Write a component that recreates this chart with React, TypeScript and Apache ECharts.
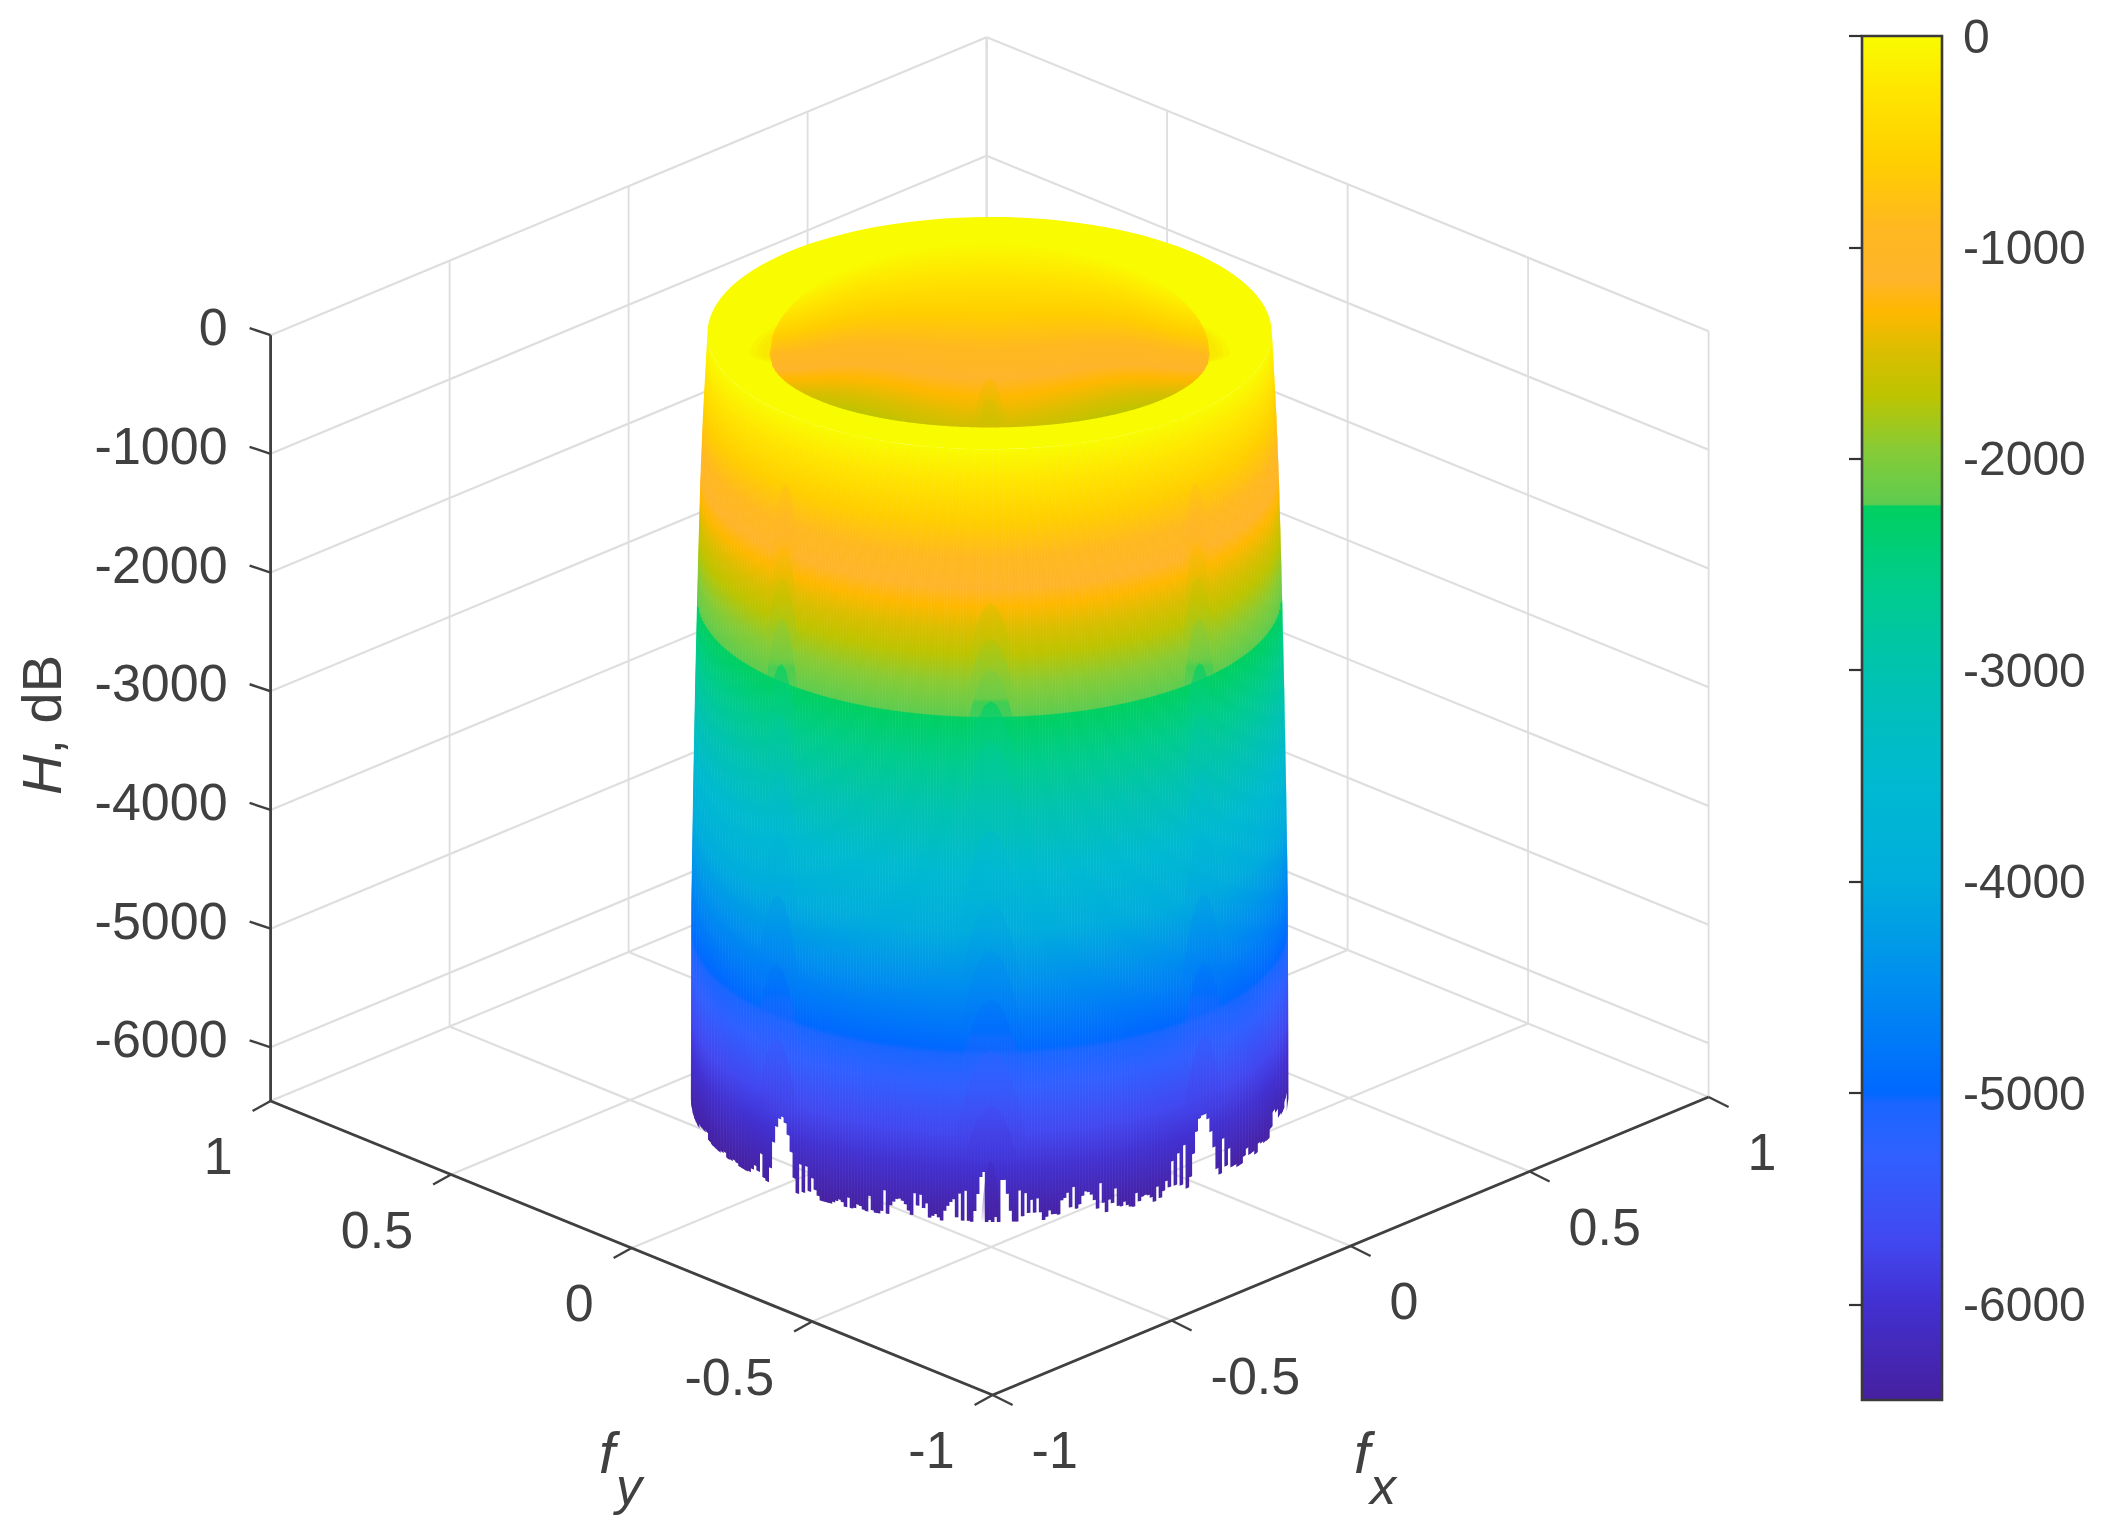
import React, { useEffect, useRef } from "react";
import * as echarts from "echarts";

const FONT = "Liberation Sans";
const INK = "#404040";
const GRID_LINE = "#dedede";

const FX_TICKS = [-1, -0.5, 0, 0.5, 1];
const FY_TICKS = [-1, -0.5, 0, 0.5, 1];
const FX_LABELS = ["-1", "-0.5", "0", "0.5", "1"];
const FY_LABELS = ["-1", "-0.5", "0", "0.5", "1"];
const Z_TICKS = [0, -1000, -2000, -3000, -4000, -5000, -6000];
const Z_MIN = -6452;

// Colour scale: dB level, colour
const COLOR_Z = [0, -250, -600, -900, -1150, -1300, -1500, -1700, -1950, -2215, -2225, -2600, -3000, -3500, -4000, -4500, -5000, -5050, -5300, -5700, -6000, -6452];
const COLOR_HEX = ["#F9FB00", "#FFE600", "#FFCE00", "#FFB820", "#FFB52A", "#FFB800", "#D9BE00", "#BDC400", "#88CB35", "#5ECC50", "#00D060", "#00CC8C", "#00C3AF", "#00BAD0", "#00ADDC", "#008CF0", "#0068FF", "#1A66FF", "#3060FF", "#4248F0", "#4230D0", "#46209F"];

// Outer wall of the surface: dB level, radius in normalised frequency
const PROFILE_Z = [0, -300, -700, -1230, -2000, -2915, -3800, -4770, -6452];
const PROFILE_R = [0.555, 0.559, 0.564, 0.569, 0.574, 0.579, 0.583, 0.5866, 0.5876];

// How far the lower rim of the wall stops above the floor, in dB, column by column from left to right
const EDGE_RISE = [
  0, 0, 0, 34, 42, 59, 8, 0, 0, 0,
  17, 34, 0, 8, 25, 17, 0, 0, 0, 8,
  42, 84, 50, 210, 17, 0, 126, 353, 496, 571,
  596, 554, 462, 328, 118, 0, 252, 25, 252, 50,
  168, 76, 34, 0, 0, 0, 0, 17, 34, 50,
  34, 0, 84, 0, 8, 42, 34, 8, 0, 134,
  17, 0, 0, 25, 202, 8, 84, 118, 143, 151,
  134, 109, 59, 25, 210, 109, 202, 92, 134, 17,
  34, 50, 25, 0, 84, 126, 160, 185, 34, 235,
  8, 260, 8, 0, 92, 235, 378, 420, 0, 17,
  0, 42, 0, 353, 353, 235, 92, 0, 0,
  260, 42, 235, 67, 176, 67, 185, 67, 0, 25,
  76, 42, 42, 34, 151, 168, 210, 84, 252, 67,
  101, 168, 202, 193, 168, 118, 42, 252, 84, 0,
  101, 67, 185, 34, 25, 59, 25, 8, 0, 109,
  34, 67, 76, 67, 42, 0, 118, 17, 67, 143,
  84, 294, 84, 344, 67, 395, 25, 109, 294, 470,
  571, 588, 588, 538, 420, 277, 84, 25, 311, 67,
  202, 34, 34, 8, 8, 59, 109, 42, 42, 8,
  76, 59, 42, 34, 101, 218, 185, 109, 92, 143, 0,
];

// Side-lobe arches on the wall: top level dB, length dB, half width in degrees of azimuth
const CENTER_ARCHES = [
  [-1272, 500, 4.5], [-1567, 520, 5], [-1820, 560, 5], [-2089, 600, 5], [-2409, 750, 5.5], [-3168, 800, 6],
  [-3757, 700, 6], [-4162, 700, 6], [-4575, 750, 6.5], [-5004, 800, 7], [-5468, 440, 5], [-5931, 520, 1.9],
];
const SIDE_ARCHES = [
  [-573, 500, 3.5], [-792, 500, 4], [-1078, 500, 4], [-1356, 550, 4.5], [-1693, 600, 4.5], [-2072, 650, 4.5],
  [-2494, 700, 5], [-2974, 700, 5.5], [-3479, 700, 5.5], [-4010, 750, 6], [-4583, 800, 6.5], [-5206, 620, 5.5],
];
const SIDE_AZIMUTHS = [-45.6, 45.6];
const HOLE_ARCHES = [[-1145, 400, 4.5], [-1300, 250, 3]];
const ARCH_DEPTH = [0, 0.06, 0.2, 0.36, 0.56, 0.77, 1];
const ARCH_WIDTH = [0, 0.25, 0.45, 0.6, 0.75, 0.88, 1];
const ARCH_SHIFT = 150;
const HALO_WIDTHS = [240, 234, 228];

// View of the box (orthographic)
const ORIGIN = [992.6, 1395];
const FX_VEC = [358, -149];
const FY_VEC = [-361, -147];
const Z_PX = 0.1187;

const project = (fx: number, fy: number, z: number) => [
  ORIGIN[0] + (fx + 1) * FX_VEC[0] + (fy + 1) * FY_VEC[0],
  ORIGIN[1] + (fx + 1) * FX_VEC[1] + (fy + 1) * FY_VEC[1] - (z - Z_MIN) * Z_PX,
];

const rAt = (z: number) => {
  for (let i = 1; i < PROFILE_Z.length; i++) {
    if (z >= PROFILE_Z[i]) {
      const t = (PROFILE_Z[i - 1] - z) / (PROFILE_Z[i - 1] - PROFILE_Z[i]);
      return PROFILE_R[i - 1] + t * (PROFILE_R[i] - PROFILE_R[i - 1]);
    }
  }
  return PROFILE_R[PROFILE_R.length - 1];
};
const radial = (r: number, az: number, z: number) => {
  const phi = ((225 + az) * Math.PI) / 180;
  return project(r * Math.cos(phi), r * Math.sin(phi), z);
};
const wall = (az: number, z: number) => radial(rAt(z), az, z);

const rgb = (h: string) => [parseInt(h.slice(1, 3), 16), parseInt(h.slice(3, 5), 16), parseInt(h.slice(5, 7), 16)];
const colorAt = (z: number, alpha = 1) => {
  let c = rgb(COLOR_HEX[COLOR_HEX.length - 1]);
  if (z >= 0) c = rgb(COLOR_HEX[0]);
  else
    for (let i = 1; i < COLOR_Z.length; i++) {
      if (z >= COLOR_Z[i]) {
        const t = (COLOR_Z[i - 1] - z) / (COLOR_Z[i - 1] - COLOR_Z[i]);
        const a = rgb(COLOR_HEX[i - 1]);
        const b = rgb(COLOR_HEX[i]);
        c = a.map((v, k) => Math.round(v + t * (b[k] - v)));
        break;
      }
    }
  return alpha >= 1 ? `rgb(${c[0]},${c[1]},${c[2]})` : `rgba(${c[0]},${c[1]},${c[2]},${alpha.toFixed(3)})`;
};

const stopsFor = (zT: number, zB: number, yFn: (z: number) => number) => {
  const yT = yFn(zT);
  const yB = yFn(zB);
  const stops = [{ offset: 0, color: colorAt(zT) }];
  COLOR_Z.forEach((z, i) => {
    if (z < zT && z > zB) stops.push({ offset: Math.min(1, Math.max(0, (yFn(z) - yT) / (yB - yT))), color: COLOR_HEX[i] });
  });
  stops.push({ offset: 1, color: colorAt(zB) });
  return stops;
};

const azOfColumn = (x: number) => (Math.asin(Math.max(-1, Math.min(1, x / 298.7))) * 180) / Math.PI;

const wallColumn = (api: any, x0: number, x1: number, zB: number) => {
  const a0 = azOfColumn(x0);
  const a1 = azOfColumn(x1);
  const am = (a0 + a1) / 2;
  const zs = PROFILE_Z.filter((z) => z > zB).concat([zB]);
  const left = zs.map((z) => api.coord(wall(a0, z)));
  const right = zs.map((z) => api.coord(wall(a1, z))).reverse();
  const top = api.coord(wall(am, 0));
  const bot = api.coord(wall(am, zB));
  const fill = new echarts.graphic.LinearGradient(0, top[1], 0, bot[1], stopsFor(0, zB, (z) => api.coord(wall(am, z))[1]), true);
  return { type: "polygon", silent: true, shape: { points: left.concat(right) }, style: { fill } };
};

const HOLE_R = 0.433;
const HOLE_Z = -177;
const HOLE_BACK = 1.23;
const HOLE_FRONT = 0.81;
const holeHalf = HOLE_R * 508.4;
const HOLE_COLUMNS = Array.from({ length: 147 }, (_, i) => i);
const holeCenter = () => radial(0, 0, HOLE_Z);
const holeBackY = (x: number, c: number[]) => c[1] - HOLE_R * 209 * HOLE_BACK * Math.sqrt(Math.max(0, 1 - (x / holeHalf) ** 2));
const holeFrontY = (x: number, c: number[]) => c[1] + HOLE_R * 209 * HOLE_FRONT * Math.sqrt(Math.max(0, 1 - (x / holeHalf) ** 2));

const holeColumn = (api: any, x0: number, x1: number) => {
  const c = holeCenter();
  const xm = (x0 + x1) / 2;
  const s = Math.min(1, Math.abs(xm / holeHalf));
  const dbPerPx = (1 / Z_PX) * (1 + s * s);
  const zT = -650 * s ** 12;
  const yT = holeBackY(xm, c);
  const yB = Math.max(holeFrontY(xm, c), yT + 0.5);
  const zB = zT - (yB - yT) * dbPerPx;
  const yFn = (z: number) => yT + (zT - z) / dbPerPx;
  const pts = [[c[0] + x0, holeBackY(x0, c)], [c[0] + x1, holeBackY(x1, c)], [c[0] + x1, holeFrontY(x1, c)], [c[0] + x0, holeFrontY(x0, c)]].map((p) => api.coord(p));
  const a = api.coord([0, yT]);
  const b = api.coord([0, yB]);
  const stops = stopsFor(zT, zB, (z) => api.coord([0, yFn(z)])[1]);
  return { type: "polygon", silent: true, shape: { points: pts }, style: { fill: new echarts.graphic.LinearGradient(0, a[1], 0, b[1], stops, true) } };
};

const haloShape = (api: any, width: number) => {
  const c = holeCenter();
  const up = HOLE_R * 209 * HOLE_BACK * 0.55;
  const pts: number[][] = [];
  for (let a = 0; a < 360; a += 4) {
    const t = (a * Math.PI) / 180;
    pts.push(api.coord([c[0] + width * Math.cos(t), c[1] + (Math.sin(t) < 0 ? up : 20) * Math.sin(t)]));
  }
  return { type: "polygon", silent: true, shape: { points: pts }, style: { fill: "rgba(255,208,0,0.14)" } };
};

const archFill = (yTop: number, yBot: number, zTop: number, depth: number) => {
  const stops = [];
  for (let k = 0; k <= 16; k++) {
    const s = k / 16;
    stops.push({ offset: s, color: colorAt(zTop - depth * s - ARCH_SHIFT, 0.72 * Math.pow(1 - s, 0.7)) });
  }
  return new echarts.graphic.LinearGradient(0, yTop, 0, yBot, stops, true);
};

const archShape = (api: any, az: number, arch: number[]) => {
  const [zTop, depth, w] = arch;
  const lft = ARCH_DEPTH.map((f, k) => api.coord(wall(az - w * ARCH_WIDTH[k], zTop - depth * f))).reverse();
  const rgt = ARCH_DEPTH.map((f, k) => api.coord(wall(az + w * ARCH_WIDTH[k], zTop - depth * f)));
  const yTop = api.coord(wall(az, zTop))[1];
  const yBot = api.coord(wall(az, zTop - depth))[1];
  return { type: "polygon", silent: true, shape: { points: lft.concat(rgt) }, style: { fill: archFill(yTop, yBot, zTop, depth) } };
};

const holeArch = (api: any, arch: number[]) => {
  const [zTop, depth, w] = arch;
  const c = holeCenter();
  const yBack = c[1] - HOLE_R * 209 * HOLE_BACK;
  const pt = (a: number, z: number) => api.coord([c[0] + holeHalf * Math.sin((a * Math.PI) / 180), yBack - z * Z_PX]);
  const lft = ARCH_DEPTH.map((f, k) => pt(-w * ARCH_WIDTH[k], zTop - depth * f)).reverse();
  const rgt = ARCH_DEPTH.map((f, k) => pt(w * ARCH_WIDTH[k], zTop - depth * f));
  return { type: "polygon", silent: true, shape: { points: lft.concat(rgt) }, style: { fill: archFill(yBack - zTop * Z_PX, yBack - (zTop - depth) * Z_PX, zTop, depth) } };
};

const seg = (api: any, a: number[], b: number[], stroke: string, lineWidth: number) => {
  const p = api.coord(a);
  const q = api.coord(b);
  return { type: "line", silent: true, shape: { x1: p[0], y1: p[1], x2: q[0], y2: q[1] }, style: { stroke, lineWidth, fill: "none" } };
};

const label = (api: any, at: number[], text: string, align: string, fontSize = 52, fontStyle = "normal", fill = INK) => {
  const p = api.coord(at);
  return {
    type: "text",
    silent: true,
    style: { x: p[0], y: p[1], text, align, verticalAlign: "middle", fontFamily: FONT, fontSize, fontStyle, fill },
  };
};

const axesSeries = (z: number, renderItem: any) => ({
  type: "custom",
  xAxisIndex: 0,
  yAxisIndex: 0,
  z,
  clip: false,
  silent: true,
  progressive: 0,
  data: [[0, 0]],
  renderItem,
});

export default function App() {
  const ref = useRef<HTMLDivElement>(null);
  useEffect(() => {
    document.body.style.margin = "0";
    document.body.style.background = "#fff";
    const chart = echarts.init(ref.current!, undefined, { renderer: "svg" });

    const gridRender = (_: any, api: any) => {
      const kids: any[] = [];
      FX_TICKS.forEach((t) => {
        kids.push(seg(api, project(t, 1, 0), project(t, 1, Z_MIN), t === 1 ? "#cfcfcf" : GRID_LINE, 1.8));
        kids.push(seg(api, project(t, -1, Z_MIN), project(t, 1, Z_MIN), GRID_LINE, 2.2));
      });
      FY_TICKS.forEach((t) => {
        kids.push(seg(api, project(1, t, 0), project(1, t, Z_MIN), GRID_LINE, 1.8));
        kids.push(seg(api, project(-1, t, Z_MIN), project(1, t, Z_MIN), GRID_LINE, 2.2));
      });
      Z_TICKS.forEach((z) => {
        kids.push(seg(api, project(-1, 1, z), project(1, 1, z), GRID_LINE, 2.2));
        kids.push(seg(api, project(1, 1, z), project(1, -1, z), GRID_LINE, 2.2));
      });
      return { type: "group", children: kids };
    };

    const axisRender = (_: any, api: any) => {
      const kids: any[] = [];
      kids.push(seg(api, project(-1, 1, 0), project(-1, 1, Z_MIN), INK, 2.8));
      kids.push(seg(api, project(-1, 1, Z_MIN), project(-1, -1, Z_MIN), INK, 2.8));
      kids.push(seg(api, project(-1, -1, Z_MIN), project(1, -1, Z_MIN), INK, 2.8));
      Z_TICKS.forEach((z) => {
        const p = project(-1, 1, z);
        kids.push(seg(api, p, [p[0] - 21, p[1] - 7], INK, 2.4));
        kids.push(label(api, [p[0] - 43, p[1] - 8], String(z), "right"));
      });
      FY_TICKS.forEach((t, i) => {
        const p = project(-1, t, Z_MIN);
        kids.push(seg(api, p, [p[0] - 18, p[1] + 10], INK, 2.4));
        kids.push(label(api, [p[0] - 38, p[1] + 55], FY_LABELS[i], "right"));
      });
      FX_TICKS.forEach((t, i) => {
        const p = project(t, -1, Z_MIN);
        kids.push(seg(api, p, [p[0] + 20, p[1] + 10], INK, 2.4));
        kids.push(label(api, [p[0] + 39, p[1] + 55], FX_LABELS[i], "left"));
      });
      kids.push(label(api, [607, 1452], "f", "center", 58, "italic"));
      kids.push(label(api, [629, 1486], "y", "center", 52, "italic"));
      kids.push(label(api, [1362, 1452], "f", "center", 58, "italic"));
      kids.push(label(api, [1383, 1486], "x", "center", 52, "italic"));
      const h = api.coord([41, 725]);
      kids.push({
        type: "text",
        silent: true,
        x: h[0],
        y: h[1],
        rotation: Math.PI / 2,
        style: {
          text: "{i|H}{n|, dB}",
          align: "center",
          verticalAlign: "middle",
          rich: {
            i: { fontFamily: FONT, fontSize: 56, fontStyle: "italic", fill: INK },
            n: { fontFamily: FONT, fontSize: 56, fill: INK },
          },
        },
      });
      return { type: "group", children: kids };
    };

    const discRender = (_: any, api: any) => {
      const pts: number[][] = [];
      for (let a = 0; a < 360; a += 3) pts.push(api.coord(radial(PROFILE_R[0], a, 0)));
      return {
        type: "group",
        children: [
          { type: "polygon", silent: true, shape: { points: pts }, style: { fill: colorAt(0) } },
          ...HALO_WIDTHS.map((w) => haloShape(api, w)),
        ],
      };
    };

    const colorbarRender = (_: any, api: any) => {
      const p = api.coord([0, 0]);
      const q = api.coord([1, Z_MIN]);
      const stops = COLOR_Z.map((z, i) => ({ offset: z / Z_MIN, color: COLOR_HEX[i] }));
      return {
        type: "rect",
        silent: true,
        shape: { x: p[0], y: p[1], width: q[0] - p[0], height: q[1] - p[1] },
        style: { fill: new echarts.graphic.LinearGradient(0, 0, 0, 1, stops), stroke: "#3a3a3a", lineWidth: 2.6 },
      };
    };

    chart.setOption({
      animation: false,
      backgroundColor: "#ffffff",
      grid: [
        { left: 0, top: 0, width: 2106, height: 1528 },
        { left: 1862, top: 36, width: 80, height: 1364 },
      ],
      xAxis: [
        { type: "value", min: 0, max: 2106, show: false, gridIndex: 0 },
        { type: "value", min: 0, max: 1, show: false, gridIndex: 1 },
      ],
      yAxis: [
        { type: "value", min: 0, max: 1528, inverse: true, show: false, gridIndex: 0 },
        {
          type: "value",
          gridIndex: 1,
          min: Z_MIN,
          max: 0,
          position: "right",
          z: 20,
          splitLine: { show: false },
          axisLine: { show: false },
          axisTick: { show: true, inside: true, length: 13, customValues: Z_TICKS, lineStyle: { color: "#333", width: 2.2 } },
          axisLabel: {
            show: true,
            customValues: Z_TICKS,
            margin: 21,
            padding: [5, 0, 0, 0],
            color: INK,
            fontFamily: FONT,
            fontSize: 48,
            formatter: (v: number) => String(v),
          },
        },
      ],
      series: [
        axesSeries(1, gridRender),
        axesSeries(2, discRender),
        {
          type: "custom",
          xAxisIndex: 0,
          yAxisIndex: 0,
          z: 3,
          clip: false,
          silent: true,
          progressive: 0,
          data: HOLE_COLUMNS.map((i) => [i, 0]),
          renderItem: (_: any, api: any) => {
            const x0 = -holeHalf + api.value(0) * 3;
            return holeColumn(api, x0, Math.min(x0 + 3.6, holeHalf));
          },
        },
        axesSeries(4, (_: any, api: any) => ({ type: "group", children: HOLE_ARCHES.map((a) => holeArch(api, a)) })),
        {
          type: "custom",
          xAxisIndex: 0,
          yAxisIndex: 0,
          z: 5,
          clip: false,
          silent: true,
          progressive: 0,
          data: EDGE_RISE.map((v, i) => [i, v]),
          renderItem: (_: any, api: any) => {
            const x = (api.value(0) - 99.5) * 3;
            const zB = Z_MIN + api.value(1);
            return {
              type: "group",
              children: [wallColumn(api, x - 1.5, x + 0.6, zB), wallColumn(api, x, x + 2.1, zB)],
            };
          },
        },
        axesSeries(6, (_: any, api: any) => ({
          type: "group",
          children: [
            ...CENTER_ARCHES.map((a) => archShape(api, 0, a)),
            ...SIDE_AZIMUTHS.flatMap((az) => SIDE_ARCHES.map((a) => archShape(api, az, a))),
          ],
        })),
        axesSeries(7, axisRender),
        {
          type: "custom",
          xAxisIndex: 1,
          yAxisIndex: 1,
          z: 8,
          clip: false,
          silent: true,
          data: [[0, 0]],
          renderItem: colorbarRender,
        },
      ],
    });
    return () => chart.dispose();
  }, []);
  return <div ref={ref} style={{ width: 2106, height: 1528, filter: "blur(0.7px)" }} />;
}
